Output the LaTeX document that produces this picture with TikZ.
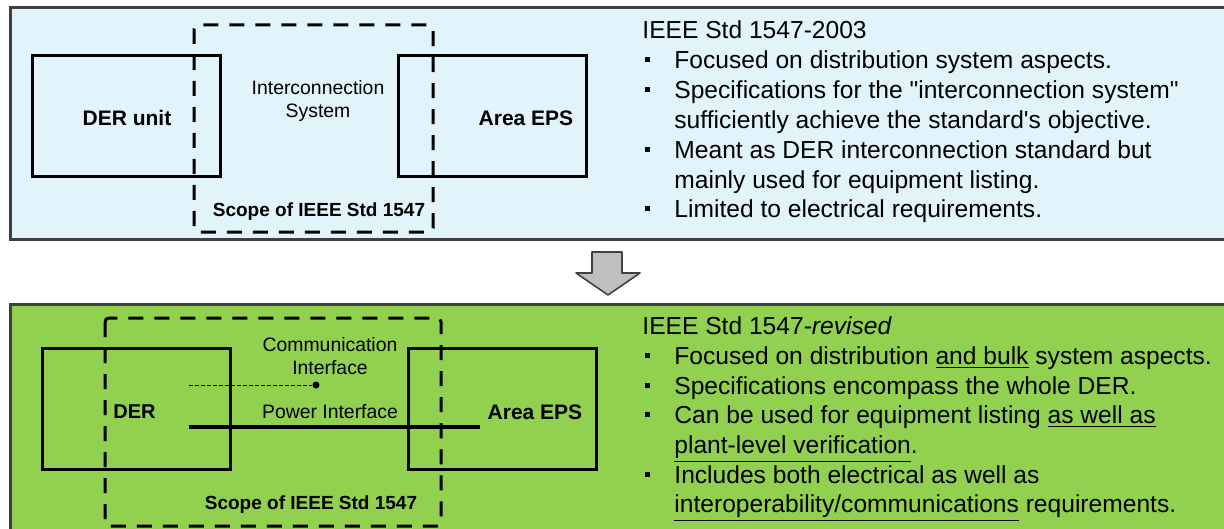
\documentclass[tikz,border=0pt]{standalone}
\usepackage{fontspec}
\setmainfont{Liberation Sans}
\newfontfamily\rawquote{Liberation Sans}

\definecolor{panelblue}{HTML}{E2F4FB}
\definecolor{panelgreen}{HTML}{92D050}
\definecolor{panelrim}{HTML}{404040}
\definecolor{arrowgray}{HTML}{BFBFBF}

\begin{document}
\begin{tikzpicture}[x=0.5pt,y=-0.5pt,
   panel/.style={draw=panelrim,line width=1.5pt},
   unit/.style={draw,line width=1.5pt,minimum width=94pt,minimum height=60.5pt,inner sep=0pt},
   scopebox/.style={line width=1.5pt,dash pattern=on 7.5pt off 5.5pt,rounded corners=2pt},
   lbl/.style={font=\fontsize{9.7}{11.5}\selectfont,inner sep=0pt,align=center},
   blbl/.style={font=\fontsize{10.5}{12}\selectfont\bfseries,inner sep=0pt},
   txt/.style={anchor=base west,inner sep=0pt,font=\fontsize{12.3}{15}\selectfont},
   bul/.style={fill,inner sep=0pt,minimum size=2.5pt}]
  \useasboundingbox (0,0) rectangle (1224,529);
  \clip (0,0) rectangle (1224,529);
  % panels
  \draw[panel,fill=panelblue]  (10,8)   rectangle (1240,239);
  \draw[panel,fill=panelgreen] (10,304) rectangle (1240,545);
  % arrow between the panels
  \draw[panelrim,fill=arrowgray,line width=0.8pt,line join=round]
     (592,252) -- (622,252) -- (622,273) -- (640,273) -- (608,295)
     -- (576,273) -- (592,273) -- cycle;

  % ---- IEEE Std 1547-2003 ----
  \node[unit] (der1) at (126.5,116.5) {};
  \node[unit] (eps1) at (492,116.5) {};
  \draw[scopebox] (194,25) rectangle (433,232);
  \node[blbl] (lder1) at (127,118) {DER unit};
  \node[lbl]  (lics)  at (318,100.5) {Interconnection\\System};
  \node[blbl] (leps1) at (526,118) {Area EPS};
  \node[blbl,font=\fontsize{9.5}{11}\selectfont\bfseries] (lsc1) at (319,212) {Scope of IEEE Std 1547};

  \node[txt] (h1) at (642,39) {IEEE Std 1547-2003};
  \node[bul] (p1a) at (647,60)  {};
  \node[txt] (t1a) at (674,69)  {Focused on distribution system aspects.};
  \node[bul] (p1b) at (647,90)  {};
  \node[txt] (t1b) at (674,99)  {Specifications for the {\rawquote"}interconnection system{\rawquote"}};
  \node[txt] (t1c) at (674,129) {sufficiently achieve the standard{\rawquote'}s objective.};
  \node[bul] (p1d) at (647,150) {};
  \node[txt] (t1d) at (674,159) {Meant as DER interconnection standard but};
  \node[txt] (t1e) at (674,189) {mainly used for equipment listing.};
  \node[bul] (p1f) at (647,209) {};
  \node[txt] (t1f) at (674,218) {Limited to electrical requirements.};

  % ---- IEEE Std 1547-revised ----
  \node[unit] (der2) at (136,408.5) {};
  \node[unit] (eps2) at (502,408.5) {};
  \draw[scopebox] (105,318) rectangle (441,526);
  \node[blbl,anchor=west,font=\fontsize{10}{12}\selectfont\bfseries] (lder2) at (113,412) {DER};
  \node[lbl]  (lcom)  at (330,356.5) {Communication\\Interface};
  \node[lbl]  (lpwr)  at (330,412) {Power Interface};
  \node[blbl] (leps2) at (535,412) {Area EPS};
  \node[blbl,font=\fontsize{9.5}{11}\selectfont\bfseries] (lsc2) at (311,505) {Scope of IEEE Std 1547};
  % interfaces
  \coordinate (comA) at (189,385);
  \node[circle,fill,inner sep=0pt,minimum size=3.5pt] (comdot) at (316,385) {};
  \draw[line width=0.5pt,dash pattern=on 2pt off 1pt] (comA) -- (comdot);
  \coordinate (pwrA) at (189,427);
  \coordinate (pwrB) at (480,427);
  \draw[line width=2pt] (pwrA) -- (pwrB);

  \node[txt] (h2) at (642,334) {IEEE Std 1547-\textit{revised}};
  \node[bul] (p2a) at (647,355) {};
  \node[txt] (t2a) at (674,364) {Focused on distribution \underline{and bulk} system aspects.};
  \node[bul] (p2b) at (647,385) {};
  \node[txt] (t2b) at (674,394) {Specifications encompass the whole DER.};
  \node[bul] (p2c) at (647,414) {};
  \node[txt] (t2c) at (674,423) {Can be used for equipment listing \underline{as well as}};
  \node[txt] (t2d) at (674,453) {\underline{plant-level verification}.};
  \node[bul] (p2e) at (647,474) {};
  \node[txt] (t2e) at (674,483) {Includes both electrical as well as};
  \node[txt] (t2f) at (674,512) {\underline{interoperability/communications} requirements.};
\end{tikzpicture}
\end{document}
